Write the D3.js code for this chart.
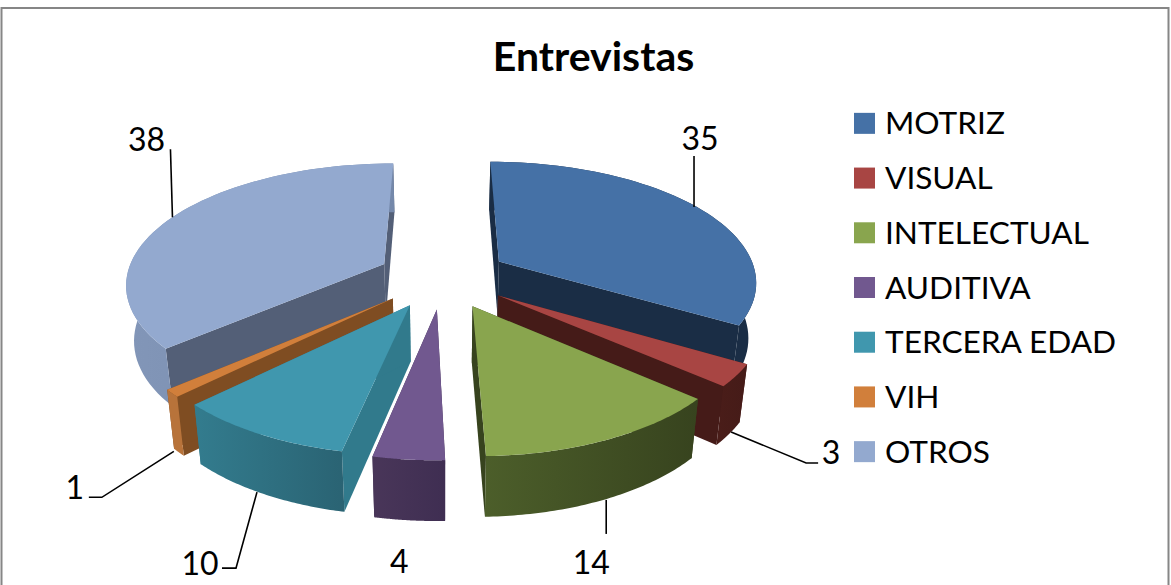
<!DOCTYPE html>
<html>
<head>
<meta charset="utf-8">
<script src="https://cdn.jsdelivr.net/npm/d3@7"></script>
<style>
  html, body { margin: 0; padding: 0; background: #fff; overflow: hidden; }
  text { font-family: Lato, "Open Sans", sans-serif; fill: #000; }
</style>
</head>
<body>
<svg id="chart" width="1171" height="585"></svg>
<script>
const title = "Entrevistas";
const categories = ["MOTRIZ", "VISUAL", "INTELECTUAL", "AUDITIVA", "TERCERA EDAD", "VIH", "OTROS"];
const values = [35, 3, 14, 4, 10, 1, 38];

// colour of the top face, the cut faces, and the outer wall (left to right)
const topColors = ["#4571a6", "#a84543", "#89a54e", "#71588f", "#4097ae", "#d17f3b", "#93a9cf"];
const cutColors = ["#1a2d45", "#451b18", "#37431e", "#3f2e52", "#317a8c", "#7f4d22", "#535f77"];
const wallLeft = ["#1a2d45", "#4a1d19", "#4c5e2a", "#493659", "#337c8e", "#b8733a", "#8296b8"];
const wallRight = ["#1a2d45", "#451b18", "#37431e", "#3f2e52", "#2a6373", "#b8733a", "#7488aa"];

// leader line points relative to the point on the rim, first one is the start
const leaderBends = [
    [[-3, 0], [-3, -51]],
    [[2, -2], [77, 29], [89, 29]],
    [[3, 0], [3, 34]],
    [],
    [[-7, -2], [-28, 74], [-42, 74]],
    [[-5, -1], [-77, 45], [-90, 45]],
    [[0, 0], [-2, -68]],
];
// label centre relative to the same rim point
const labelOffsets = [[3, -70], [102, 18], [-12, 62], [-10, 40], [-64, 68], [-104, 34], [-26, -79]];

const width = 1171, height = 585;
const cx = 443, cy = 277;
const rx = 258, ry = 123;
const explode = 0.255;    // pull of each slice from the middle
const depth = 55;         // wall height
const persp = 0.15;       // nearer points are drawn larger
const floorShrink = 0.975;

const svg = d3.select("#chart");
const defs = svg.append("defs");

// unit circle coords to screen, level 0 = top face, 1 = floor
function project(X, Y, level) {
    const s = 1 + persp * Y;
    const k = level ? floorShrink : 1;
    return [
        cx + X * rx * s * k,
        cy + Y * ry * s * k + (level ? depth * s : 0),
    ];
}

function makeSlice(d, i) {
    const mid = (d.startAngle + d.endAngle) / 2;
    const ox = explode * Math.sin(mid);
    const oy = -explode * Math.cos(mid);
    const rim = a => [ox + Math.sin(a), oy - Math.cos(a)];
    const steps = d3.range(0, 61).map(t => d.startAngle + (d.endAngle - d.startAngle) * t / 60);
    return { d, i, mid, ox, oy, rim, steps };
}

const line = d3.line();
const arcs = d3.pie().sort(null).value(v => v)(values);
const slices = arcs.map(makeSlice);

slices.forEach(s => {
    const grad = defs.append("linearGradient").attr("id", "wall" + s.i);
    grad.append("stop").attr("offset", "0%").attr("stop-color", wallLeft[s.i]);
    grad.append("stop").attr("offset", "100%").attr("stop-color", wallRight[s.i]);
});

const pie = svg.append("g").attr("class", "pie");

// back slices first so the near ones cover them
slices.slice().sort((a, b) => a.oy - b.oy).forEach(s => {
    const g = pie.append("g").attr("class", "slice");
    const apex = [s.ox, s.oy];

    [s.d.startAngle, s.d.endAngle].forEach(a => {
        const r = s.rim(a);
        g.append("path")
            .attr("d", line([project(...apex, 0), project(...r, 0), project(...r, 1), project(...apex, 1)]) + "Z")
            .attr("fill", cutColors[s.i]);
    });

    const topRim = s.steps.map(a => project(...s.rim(a), 0));
    const floorRim = s.steps.map(a => project(...s.rim(a), 1));
    g.append("path")
        .attr("d", line(topRim.concat(floorRim.reverse())) + "Z")
        .attr("fill", `url(#wall${s.i})`);

    g.append("path")
        .attr("d", line([project(...apex, 0)].concat(topRim)) + "Z")
        .attr("fill", topColors[s.i]);
});

// leaders and value labels
slices.forEach(s => {
    const front = Math.cos(s.mid) < 0;
    const anchor = project(...s.rim(s.mid), front ? 1 : 0);
    const pts = leaderBends[s.i].map(b => [anchor[0] + b[0], anchor[1] + b[1]]);
    if (pts.length > 1) {
        svg.append("path")
            .attr("d", line(pts))
            .attr("fill", "none")
            .attr("stroke", "#000")
            .attr("stroke-width", 1.6);
    }
    svg.append("text")
        .attr("x", anchor[0] + labelOffsets[s.i][0])
        .attr("y", anchor[1] + labelOffsets[s.i][1])
        .attr("text-anchor", "middle")
        .attr("dominant-baseline", "central")
        .style("font-size", "32px")
        .text(values[s.i]);
});

// chart border, runs off the bottom of the picture
svg.append("path")
    .attr("d", line([[1.5, height + 5], [1.5, 8], [1168.5, 8], [1168.5, height + 5]]))
    .attr("fill", "none")
    .attr("stroke", "#868686")
    .attr("stroke-width", 2);

svg.append("text")
    .attr("x", 593.5)
    .attr("y", 71)
    .attr("text-anchor", "middle")
    .style("font-size", "41px")
    .style("font-weight", "700")
    .text(title);

const legendY = d3.scaleBand()
    .domain(categories)
    .range([96, 479]);

const legend = svg.append("g").attr("class", "legend");
legend.selectAll("rect")
    .data(categories)
    .join("rect")
    .attr("x", 854)
    .attr("y", d => legendY(d) + legendY.bandwidth() / 2 - 10.5)
    .attr("width", 21)
    .attr("height", 21)
    .attr("fill", (d, i) => topColors[i]);
legend.selectAll("text")
    .data(categories)
    .join("text")
    .attr("x", 885)
    .attr("y", d => legendY(d) + legendY.bandwidth() / 2 - 1)
    .attr("dominant-baseline", "central")
    .style("font-size", "31.6px")
    .text(d => d);
</script>
</body>
</html>
